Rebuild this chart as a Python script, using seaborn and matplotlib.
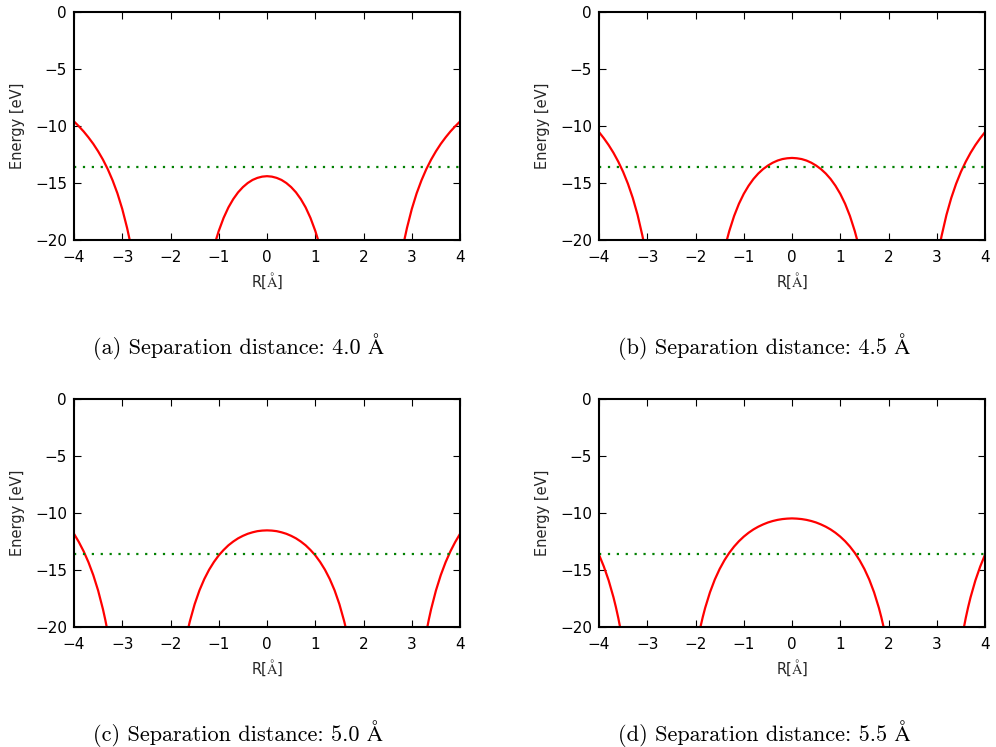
import numpy as np
import pandas as pd
import matplotlib
matplotlib.use("Agg")
import matplotlib.pyplot as plt
import seaborn as sns

# ---------------- data ----------------
separations = [4.0, 4.5, 5.0, 5.5]
panel_tags = ["(a)", "(b)", "(c)", "(d)"]
ground_level = -13.6  # dotted reference line [eV]

# central arc (R >= 0 half; the curve is symmetric about R = 0)
center_r = {
    4.0: [0.0, 0.1, 0.2, 0.3, 0.4, 0.5, 0.6, 0.7, 0.8, 0.9, 1.0, 1.05, 1.1],
    4.5: [0.0, 0.1, 0.2, 0.3, 0.4, 0.5, 0.6, 0.7, 0.8, 0.9, 1.0, 1.1, 1.2, 1.3, 1.35, 1.4],
    5.0: [0.0, 0.1, 0.2, 0.3, 0.4, 0.5, 0.6, 0.7, 0.8, 0.9, 1.0, 1.1, 1.2, 1.3, 1.4, 1.5, 1.6, 1.65],
    5.5: [0.0, 0.1, 0.2, 0.3, 0.4, 0.5, 0.6, 0.7, 0.8, 0.9, 1.0, 1.1, 1.2, 1.3, 1.4, 1.5, 1.6, 1.7, 1.8, 1.85, 1.9, 1.95],
}
center_e = {
    4.0: [-14.40, -14.44, -14.55, -14.73, -15.00, -15.36, -15.82, -16.41, -17.14, -18.06, -19.20, -19.88, -20.65],
    4.5: [-12.80, -12.83, -12.90, -13.03, -13.22, -13.47, -13.78, -14.17, -14.65, -15.24, -15.95, -16.82, -17.89, -19.21, -20.00, -20.89],
    5.0: [-11.52, -11.54, -11.59, -11.69, -11.82, -12.00, -12.22, -12.50, -12.83, -13.24, -13.71, -14.29, -14.97, -15.79, -16.78, -18.00, -19.51, -20.41],
    5.5: [-10.47, -10.49, -10.53, -10.60, -10.70, -10.83, -11.00, -11.20, -11.44, -11.73, -12.07, -12.47, -12.94, -13.49, -14.14, -14.91, -15.83, -16.95, -18.32, -19.13, -20.04, -21.10],
}
# outer arcs (R > 0 side; mirrored for R < 0)
outer_r = {
    4.0: [2.8, 2.85, 2.9, 3.0, 3.1, 3.2, 3.3, 3.4, 3.5, 3.6, 3.7, 3.8, 3.9, 4.0],
    4.5: [3.05, 3.08, 3.1, 3.2, 3.3, 3.4, 3.5, 3.6, 3.7, 3.8, 3.9, 4.0],
    5.0: [3.3, 3.35, 3.4, 3.5, 3.6, 3.7, 3.8, 3.9, 4.0],
    5.5: [3.55, 3.6, 3.65, 3.7, 3.8, 3.9, 4.0],
}
outer_e = {
    4.0: [-21.00, -19.91, -18.94, -17.28, -15.91, -14.77, -13.79, -12.95, -12.22, -11.57, -11.00, -10.48, -10.02, -9.60],
    4.5: [-20.72, -20.05, -19.63, -17.80, -16.31, -15.07, -14.02, -13.13, -12.35, -11.67, -11.07, -10.53],
    5.0: [-20.48, -19.40, -18.44, -16.80, -15.45, -14.32, -13.36, -12.54, -11.82],
    5.5: [-20.29, -19.21, -18.25, -17.39, -15.91, -14.69, -13.65],
}

x_ticks = [-4, -3, -2, -1, 0, 1, 2, 3, 4]
y_ticks = [-20, -15, -10, -5, 0]

# ---------------- style ----------------
sns.set_style("white")
plt.rcParams.update({
    "font.family": ["DejaVu Sans"],
    "mathtext.fontset": "cm",
    "axes.unicode_minus": True,
    "xtick.direction": "in",
    "ytick.direction": "in",
    "xtick.top": True,
    "ytick.right": True,
    "xtick.bottom": True,
    "ytick.left": True,
    "xtick.major.size": 5,
    "ytick.major.size": 5,
    "xtick.major.width": 0.8,
    "ytick.major.width": 0.8,
    "axes.edgecolor": "black",
    "axes.linewidth": 1.5,
})

fig = plt.figure(figsize=(9.96, 7.47), dpi=100)

lefts = [0.0743, 0.6014, 0.0743, 0.6014]
bottoms = [0.6787, 0.6787, 0.1606, 0.1606]
width, height = 0.3876, 0.3052
cap_x = [0.239, 0.767, 0.239, 0.767]
cap_y = [0.536, 0.536, 0.018, 0.018]

for i, d in enumerate(separations):
    ax = fig.add_axes([lefts[i], bottoms[i], width, height])
    cr = np.array(center_r[d])
    ce = np.array(center_e[d])
    orr = np.array(outer_r[d])
    oe = np.array(outer_e[d])

    center_df = pd.DataFrame({"R": np.concatenate([-cr[::-1], cr[1:]]),
                              "E": np.concatenate([ce[::-1], ce[1:]])})
    right_df = pd.DataFrame({"R": orr, "E": oe})
    left_df = pd.DataFrame({"R": -orr[::-1], "E": oe[::-1]})

    for df in (left_df, center_df, right_df):
        sns.lineplot(data=df, x="R", y="E", ax=ax, color="red", lw=1.6,
                     estimator=None, sort=False)
    sns.lineplot(x=[-4, 4], y=[ground_level, ground_level], ax=ax,
                 color="green", lw=1.6, dashes=False, estimator=None)
    ax.lines[-1].set_linestyle((4, (1, 3)))

    ax.set_xlim(-4, 4)
    ax.set_ylim(-20, 0)
    ax.set_xticks(x_ticks)
    ax.set_yticks(y_ticks)
    ax.tick_params(axis="x", labelsize=11, pad=7, colors="black")
    ax.tick_params(axis="y", labelsize=11, pad=5, colors="black")
    ax.set_xlabel(r"R[$\mathrm{\AA}$]", fontsize=10.5, labelpad=4)
    ax.set_ylabel("Energy [eV]", fontsize=10.5, labelpad=7)
    for s in ax.spines.values():
        s.set_visible(True)
        s.set_linewidth(1.5)

    fig.text(cap_x[i], cap_y[i],
             f"{panel_tags[i]} Separation distance: {d:.1f} Å",
             ha="center", va="center", fontsize=16, color="black",
             family=["cmr10", "STIXGeneral"])

fig.savefig("out.png", dpi=100)
